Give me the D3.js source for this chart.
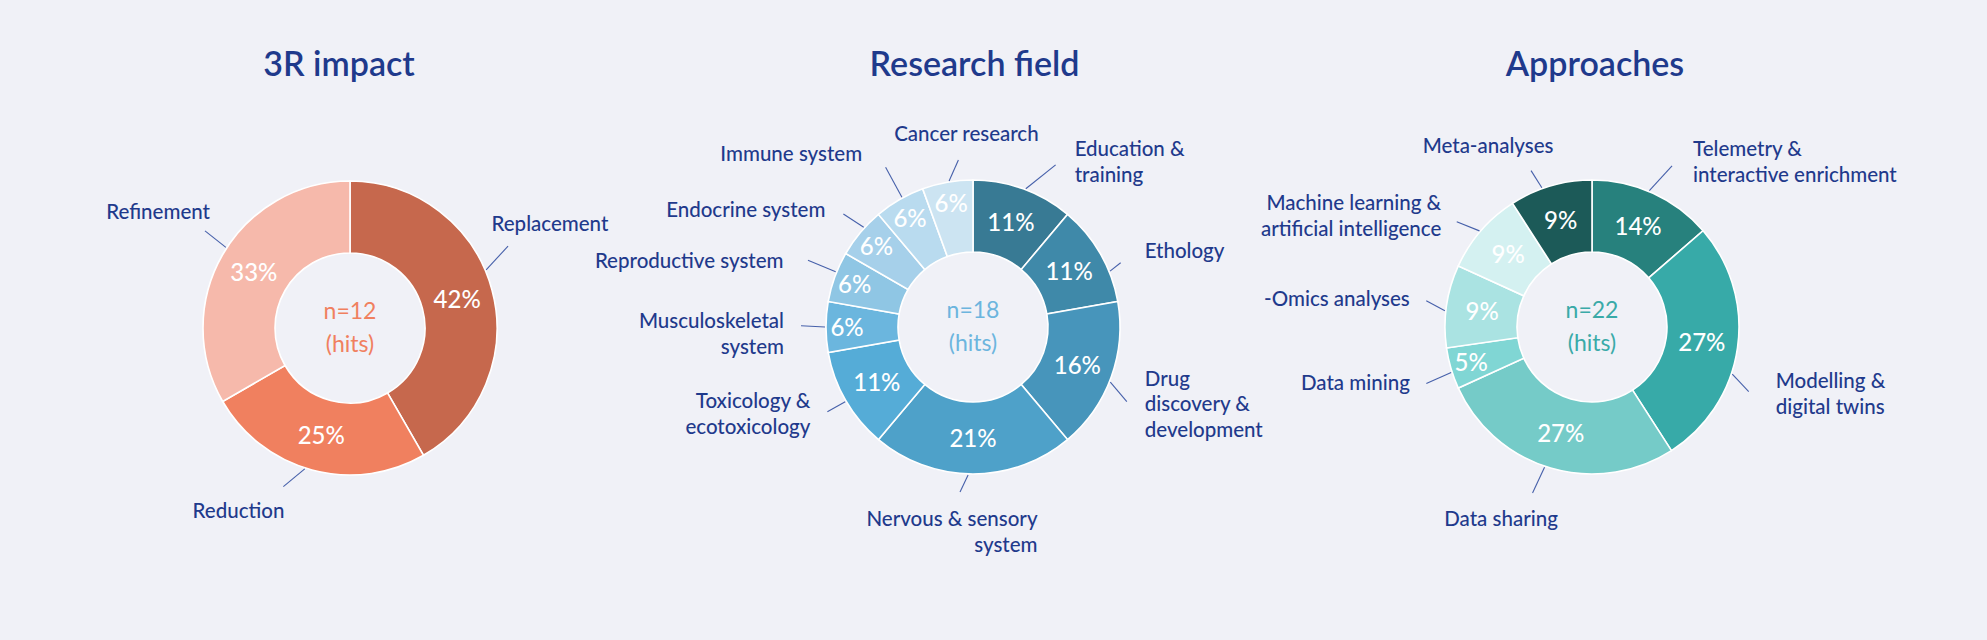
<!DOCTYPE html>
<html>
<head>
<meta charset="utf-8">
<script src="https://cdnjs.cloudflare.com/ajax/libs/d3/7.8.5/d3.min.js"></script>
<style>
  body { margin: 0; background: #f0f1f7; }
  svg { display: block; font-family: Lato, "Noto Sans", sans-serif; }
</style>
</head>
<body>
<svg id="chart" width="1987" height="640"></svg>
<script>
// ---- data: 3R impact (n=12 hits) ----
var impactNames = ["Replacement", "Reduction", "Refinement"];
var impactHits = [5, 3, 4];
var impactPct = ["42%", "25%", "33%"];
var impactColors = ["#c6684d", "#f0805f", "#f6b9ab"];

// ---- data: research field (n=18 hits) ----
var fieldNames = ["Education &\ntraining", "Ethology", "Drug\ndiscovery &\ndevelopment",
                  "Nervous & sensory\nsystem", "Toxicology &\necotoxicology", "Musculoskeletal\nsystem",
                  "Reproductive system", "Endocrine system", "Immune system", "Cancer research"];
var fieldHits = [2, 2, 3, 4, 2, 1, 1, 1, 1, 1];
var fieldPct = ["11%", "11%", "16%", "21%", "11%", "6%", "6%", "6%", "6%", "6%"];
var fieldColors = ["#387a94", "#3f89a9", "#4795bb", "#4ea1c9", "#55acd7",
                   "#6bb6de", "#8fc6e4", "#a6d0ea", "#b9dbef", "#cce4f2"];

// ---- data: approaches (n=22 hits) ----
var approachNames = ["Telemetry &\ninteractive enrichment", "Modelling &\ndigital twins", "Data sharing",
                     "Data mining", "-Omics analyses", "Machine learning &\nartificial intelligence", "Meta-analyses"];
var approachHits = [3, 6, 6, 1, 2, 2, 2];
var approachPct = ["14%", "27%", "27%", "5%", "9%", "9%", "9%"];
var approachColors = ["#27817d", "#37aaa8", "#75cbc8", "#80d6d4", "#aae3e2", "#d4f1f1", "#1c5a58"];

// ---- label layout (leader start angle, end angle, end radius, anchor, text offset) ----
var impactLayout = [
  {a0: 66.9, a1: 62.6, r1: 178, anchor: "start", dx: -16.5, dy: -15},
  {a0: 197.8, a1: 202.8, r1: 172, anchor: "end", dx: 1, dy: 31},
  {a0: 303, a1: 303.8, r1: 174.5, anchor: "end", dx: 5, dy: -12}
];
var fieldLayout = [
  {a0: 20.9, a1: 27, r1: 182, anchor: "start", dx: 19, dy: -9},
  {a0: 67.8, a1: 66.5, r1: 161, anchor: "start", dx: 24, dy: -4.5},
  {a0: 111.9, a1: 115.9, r1: 171, anchor: "start", dx: 18, dy: -16},
  {a0: 181.9, a1: 184.5, r1: 165.5, anchor: "end", dx: 77.5, dy: 34},
  {a0: 239.7, a1: 239.8, r1: 168.5, anchor: "end", dx: -17, dy: -3.5},
  {a0: 270, a1: 270.4, r1: 172, anchor: "end", dx: -17, dy: 2.5},
  {a0: 291.9, a1: 292, r1: 178, anchor: "end", dx: -24.5, dy: 7.5},
  {a0: 312.4, a1: 311.1, r1: 172, anchor: "end", dx: -18, dy: 3},
  {a0: 331.3, a1: 331.3, r1: 182, anchor: "end", dx: -23.5, dy: -6},
  {a0: 350.7, a1: 355, r1: 167.6, anchor: "middle", dx: 8, dy: -19.5}
];
var approachLayout = [
  {a0: 22.8, a1: 26.4, r1: 180, anchor: "start", dx: 21, dy: -10},
  {a0: 108.6, a1: 112.4, r1: 169.5, anchor: "start", dx: 27, dy: -3.5},
  {a0: 198.7, a1: 199.7, r1: 176.4, anchor: "middle", dx: -31.5, dy: 33},
  {a0: 252.1, a1: 251.2, r1: 175, anchor: "end", dx: -16.5, dy: 6.5},
  {a0: 276.3, a1: 279, r1: 167.8, anchor: "end", dx: -16.5, dy: 5.5},
  {a0: 310.5, a1: 307.9, r1: 171.4, anchor: "end", dx: -15.5, dy: -11.5},
  {a0: 340.2, a1: 338.7, r1: 167.8, anchor: "middle", dx: -43, dy: -18}
];

var charts = [
  {title: "3R impact", cx: 350, cy: 328, titleDx: -11, names: impactNames, hits: impactHits,
   pct: impactPct, colors: impactColors, centerColor: "#f0805f", layout: impactLayout},
  {title: "Research field", cx: 973, cy: 327, titleDx: 1.5, names: fieldNames, hits: fieldHits,
   pct: fieldPct, colors: fieldColors, centerColor: "#6cb5de", layout: fieldLayout},
  {title: "Approaches", cx: 1592, cy: 327, titleDx: 3, names: approachNames, hits: approachHits,
   pct: approachPct, colors: approachColors, centerColor: "#3aaaa8", layout: approachLayout}
];

var innerR = 75, outerR = 147;
var navy = "#1f3a8c";
var svg = d3.select("#chart");

svg.append("rect").attr("width", 1987).attr("height", 640).attr("fill", "#f0f1f7");

var arc = d3.arc().innerRadius(innerR).outerRadius(outerR);
var pie = d3.pie().sort(null).value(function(d) { return d.hits; });
var rad = Math.PI / 180;

charts.forEach(function(c) {
  var rows = c.names.map(function(n, i) {
    return {name: n, hits: c.hits[i], pct: c.pct[i], color: c.colors[i], lay: c.layout[i]};
  });
  var total = d3.sum(c.hits);

  svg.append("text")
      .attr("x", c.cx + c.titleDx)
      .attr("y", 76)
      .attr("text-anchor", "middle")
      .style("font-size", "34px")
      .style("font-weight", 600)
      .style("fill", navy)
      .text(c.title);

  var g = svg.append("g").attr("transform", "translate(" + c.cx + "," + c.cy + ")");
  var arcs = pie(rows);

  g.selectAll("path.slice")
      .data(arcs)
    .enter().append("path")
      .attr("class", "slice")
      .attr("d", arc)
      .style("fill", function(d) { return d.data.color; })
      .style("stroke", "#ffffff")
      .style("stroke-width", 1.6);

  // percentages inside the ring (small slices pushed outwards)
  g.selectAll("text.pct")
      .data(arcs)
    .enter().append("text")
      .attr("class", "pct")
      .attr("transform", function(d) {
        var r = d.data.hits / total < 0.08 ? 126 : 111;
        var p = d3.arc().innerRadius(r).outerRadius(r).centroid(d);
        return "translate(" + p + ")";
      })
      .attr("dy", "0.36em")
      .attr("text-anchor", "middle")
      .style("font-size", "24px")
      .style("font-weight", 500)
      .style("fill", "#ffffff")
      .text(function(d) { return d.data.pct; });

  // leader lines
  g.selectAll("line.leader")
      .data(rows)
    .enter().append("line")
      .attr("class", "leader")
      .each(function(d) {
        var p0 = d3.pointRadial(d.lay.a0 * rad, outerR + 1);
        var p1 = d3.pointRadial(d.lay.a1 * rad, d.lay.r1);
        d3.select(this)
          .attr("x1", p0[0]).attr("y1", p0[1])
          .attr("x2", p1[0]).attr("y2", p1[1]);
      })
      .style("stroke", "#4660aa")
      .style("stroke-width", 1.1);

  // category labels
  g.selectAll("text.cat")
      .data(rows)
    .enter().append("text")
      .attr("class", "cat")
      .attr("text-anchor", function(d) { return d.lay.anchor; })
      .style("font-size", "20.5px")
      .style("font-weight", 500)
      .style("fill", navy)
      .each(function(d) {
        var p1 = d3.pointRadial(d.lay.a1 * rad, d.lay.r1);
        var x = p1[0] + d.lay.dx, y = p1[1] + d.lay.dy;
        d3.select(this).selectAll("tspan")
            .data(d.name.split("\n"))
          .enter().append("tspan")
            .attr("x", x)
            .attr("y", function(t, i) { return y + i * 25.8; })
            .text(function(t) { return t; });
      });

  // centre text
  g.append("text")
      .attr("y", -9)
      .attr("text-anchor", "middle")
      .style("font-size", "23px")
      .style("fill", c.centerColor)
      .text("n=" + total);
  g.append("text")
      .attr("y", 24)
      .attr("text-anchor", "middle")
      .style("font-size", "23px")
      .style("fill", c.centerColor)
      .text("(hits)");
});
</script>
</body>
</html>
